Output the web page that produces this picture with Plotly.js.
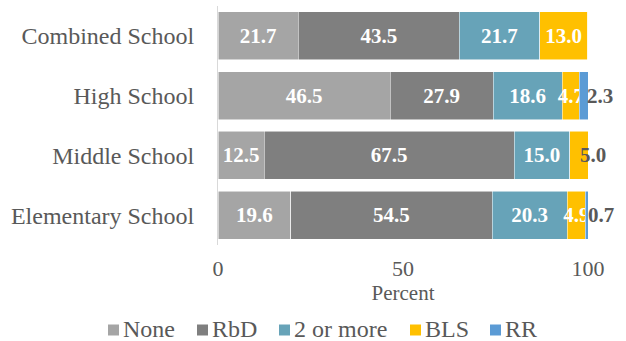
<!DOCTYPE html>
<html>
<head>
<meta charset="utf-8">
<script src="https://cdn.plot.ly/plotly-3.0.1.min.js"></script>
<style>
  html, body { margin: 0; padding: 0; background: #ffffff; }
  #chart { width: 626px; height: 341px; }
</style>
</head>
<body>
<div id="chart"></div>
<script>
// Reading-program usage by school level (percent of schools)
const categories = ['Elementary School', 'Middle School', 'High School', 'Combined School'];
const seriesNames = ['None', 'RbD', '2 or more', 'BLS', 'RR'];
const noneVals    = [19.6, 12.5, 46.5, 21.7];
const rbdVals     = [54.5, 67.5, 27.9, 43.5];
const twoPlusVals = [20.3, 15.0, 18.6, 21.7];
const blsVals     = [4.9, 5.0, 4.7, 13.0];
const rrVals      = [0.7, 0, 2.3, 0];
const xTicks      = [0, 50, 100];

const colors = ['#a5a5a5', '#7f7f7f', '#67a3b8', '#ffc000', '#5b9bd5'];
const allVals = [noneVals, rbdVals, twoPlusVals, blsVals, rrVals];

const FONT = 'Liberation Serif, Times New Roman, serif';
const GREY = '#595959';

// Figure geometry
const W = 626, H = 341;
const M = { l: 218, r: 38, t: 6, b: 96 };
const plotW = W - M.l - M.r, plotH = H - M.t - M.b;
const px2paperX = px => (px - M.l) / plotW;
const px2paperY = py => (H - M.b - py) / plotH;

// Segments whose label sits past the bar end in grey: [seriesIndex, categoryIndex, xshift]
const outerLabels = [[3, 1, -10], [4, 2, -3], [4, 0, -2]];
const isOuter = (s, c) => outerLabels.some(o => o[0] === s && o[1] === c);

const traces = allVals.map((vals, s) => ({
  type: 'bar',
  orientation: 'h',
  name: seriesNames[s],
  y: categories,
  x: vals,
  marker: { color: colors[s], line: { color: 'rgba(255,255,255,0.7)', width: 0.75 } },
  text: vals.map((v, c) => (v > 0 && !isOuter(s, c)) ? v.toFixed(1) : ''),
  textposition: 'inside',
  insidetextanchor: 'middle',
  textangle: 0,
  constraintext: 'none',
  textfont: { family: FONT, size: 21, color: '#ffffff', weight: 'bold' },
  showlegend: false,
  hoverinfo: 'x+name'
}));

// Cumulative end of each segment, for labels placed beyond the stack
function segmentEnd(s, c) {
  let sum = 0;
  for (let i = 0; i <= s; i++) sum += allVals[i][c];
  return sum;
}

const annotations = outerLabels.map(([s, c, dx]) => ({
  x: segmentEnd(s, c),
  y: categories[c],
  xref: 'x', yref: 'y',
  text: '<b>' + allVals[s][c].toFixed(1) + '</b>',
  showarrow: false,
  xanchor: 'left',
  yanchor: 'middle',
  xshift: dx,
  font: { family: FONT, size: 21, color: GREY }
}));

// Legend row below the axis title: square swatch followed by its name
const legendSwatchLeft = [108, 197, 279, 410, 490];
const legendTextGap = 3;
const swatchSize = 11;
const legendCenterY = 330;
const shapes = [];
seriesNames.forEach((name, i) => {
  const x0 = legendSwatchLeft[i];
  shapes.push({
    type: 'rect', xref: 'paper', yref: 'paper',
    x0: px2paperX(x0), x1: px2paperX(x0 + swatchSize),
    y0: px2paperY(legendCenterY + swatchSize / 2), y1: px2paperY(legendCenterY - swatchSize / 2),
    fillcolor: colors[i], line: { width: 0 }
  });
  annotations.push({
    x: px2paperX(x0 + swatchSize + legendTextGap),
    y: px2paperY(legendCenterY - 1),
    xref: 'paper', yref: 'paper',
    text: name,
    showarrow: false,
    xanchor: 'left',
    yanchor: 'middle',
    borderpad: 0,
    font: { family: FONT, size: 24, color: GREY }
  });
});

const layout = {
  width: W,
  height: H,
  margin: M,
  paper_bgcolor: '#ffffff',
  plot_bgcolor: '#ffffff',
  barmode: 'stack',
  bargap: 0.2,
  showlegend: false,
  font: { family: FONT, color: GREY },
  xaxis: {
    range: [0, 100],
    tickvals: xTicks,
    showgrid: false,
    zeroline: false,
    showline: false,
    ticks: 'outside',
    ticklen: 4,
    tickcolor: 'rgba(0,0,0,0)',
    tickfont: { family: FONT, size: 22, color: GREY },
    title: { text: 'Percent', font: { family: FONT, size: 21, color: GREY }, standoff: 2 },
    fixedrange: true
  },
  yaxis: {
    type: 'category',
    categoryorder: 'array',
    categoryarray: categories,
    showgrid: false,
    zeroline: false,
    showline: true,
    linecolor: '#d9d9d9',
    linewidth: 1,
    ticks: '',
    ticklabelstandoff: 18,
    tickfont: { family: FONT, size: 24, color: GREY },
    fixedrange: true
  },
  shapes: shapes,
  annotations: annotations
};

Plotly.newPlot('chart', traces, layout, { displayModeBar: false, staticPlot: true });
</script>
</body>
</html>
